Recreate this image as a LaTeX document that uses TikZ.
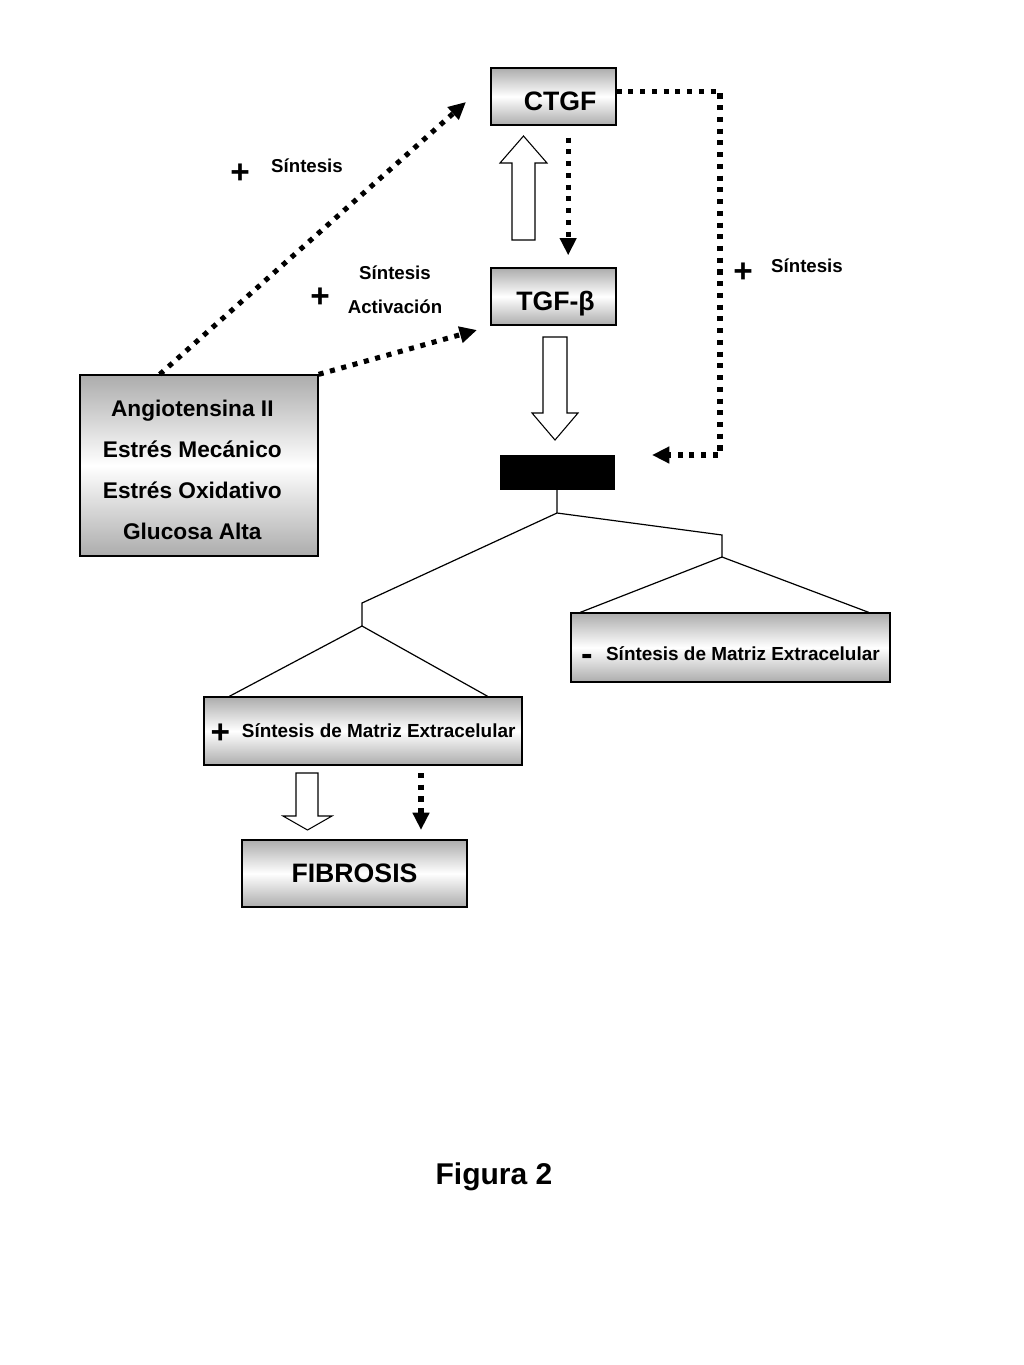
\documentclass[tikz,border=0pt]{standalone}
\usepackage{fontspec}
\setmainfont{Liberation Sans}
\usetikzlibrary{arrows.meta,calc}

\tikzset{
  box/.style={draw, line width=1pt, top color=gray!65, bottom color=gray!65, middle color=white,
    font=\bfseries, inner sep=0pt, align=center},
  dots/.style={line width=3.8pt, dash pattern=on 3.8pt off 5pt},
  tip/.style={-{Triangle[length=13pt,width=12pt]}},
  hollow/.style={draw, line width=0.8pt, fill=white},
  tree/.style={line width=0.9pt},
  lbl/.style={font=\bfseries\fontsize{14}{16}\selectfont},
  sign/.style={font=\bfseries\fontsize{25}{25}\selectfont},
}
% push text down inside its box by #1
\newcommand{\sink}[2]{\raisebox{0pt}[\dimexpr\height+#1*2\relax][\depth]{#2}}

\begin{document}
\begin{tikzpicture}[x=0.75pt,y=-0.75pt]
  \useasboundingbox (0,0) rectangle (1024,1365);

  % boxes
  \node[box, minimum width=93.75pt, minimum height=42.75pt, font=\bfseries\fontsize{20}{20}\selectfont] (ctgf) at (553.5,96.5) {\hspace{10pt}\sink{3.75pt}{CTGF}};
  \node[box, minimum width=93.75pt, minimum height=42.75pt, font=\bfseries\fontsize{20}{20}\selectfont] (tgf) at (553.5,296.5) {\hspace{3pt}\sink{5.25pt}{TGF-β}};
  \node[box, minimum width=178.5pt, minimum height=135.75pt, font=\bfseries\fontsize{17}{30.75}\selectfont] (angio) at (199,465.5)
    {\hspace{-10pt}\sink{3pt}{\begin{tabular}{c}Angiotensina II\\Estrés Mecánico\\Estrés Oxidativo\\Glucosa Alta\end{tabular}}};
  \node[draw, fill=black, minimum width=85.5pt, minimum height=25.5pt, inner sep=0pt] (black) at (557,472) {};
  \node[box, minimum width=239.25pt, minimum height=51.75pt, font=\bfseries\fontsize{14.2}{16}\selectfont] (menos) at (730.5,647.5)
    {\sink{6.5pt}{\raisebox{-3.5pt}{\fontsize{26}{16}\selectfont -}\hspace{6pt} Síntesis de Matriz Extracelular}};
  \node[box, minimum width=238.5pt, minimum height=51pt, font=\bfseries\fontsize{14.2}{16}\selectfont] (mas) at (363,731)
    {\sink{2.2pt}{\raisebox{-4.5pt}{\fontsize{25}{16}\selectfont +}\hspace{5pt} Síntesis de Matriz Extracelular}};
  \node[box, minimum width=168.75pt, minimum height=50.25pt, font=\bfseries\fontsize{20}{20}\selectfont] (fibrosis) at (354.5,873.5) {FIBROSIS};

  % labels
  \node[sign] (p1) at (240,174) {+};
  \node[lbl] (s1) at (307,166) {Síntesis};
  \node[sign] (p2) at (320,298) {+};
  \node[lbl, align=center, font=\bfseries\fontsize{14}{25.5}\selectfont] (s2) at (395,290) {Síntesis\\Activación};
  \node[sign] (p3) at (743,273) {+};
  \node[lbl] (s3) at (807,266) {Síntesis};

  % dotted connectors
  \coordinate (a1) at (466,102);
  \coordinate (a2) at (477,330);
  \coordinate (a3) at (652,455);
  \coordinate (f1) at (421,773);
  \draw[dots, tip] ($(angio.north west)!0.336!(angio.north east)$) -- (a1);
  \draw[dots, tip] (angio.north east) -- (a2);
  \draw[dots, tip] ([xshift=11pt,yshift=-9pt]ctgf.south) -- ([xshift=11pt,yshift=9pt]tgf.north);
  \draw[dots, tip] ([yshift=4pt]ctgf.east) -| (720,455) -- (a3);
  \draw[dots, tip] (f1) -- ([yshift=7pt]f1 |- fibrosis.north);

  % hollow arrows
  \draw[hollow] (512,240) -- (512,163) -- (500,163) -- (523.5,136) -- (547,163) -- (535,163) -- (535,240) -- cycle;
  \draw[hollow] (543,337) -- (543,413) -- (532,413) -- (555,440) -- (578,413) -- (567,413) -- (567,337) -- cycle;
  \draw[hollow] (296,773) -- (296,816) -- (283,816) -- (307.5,830) -- (332,816) -- (318,816) -- (318,773) -- cycle;

  % tree
  \coordinate (t0) at (557,513);
  \coordinate (tr) at (722,535);
  \coordinate (trb) at (722,557);
  \coordinate (tl) at (362,603);
  \coordinate (tlb) at (362,626);
  \draw[tree] (black.south) -- (t0) -- (tr) -- (trb);
  \draw[tree] (t0) -- (tl) -- (tlb);
  \draw[tree] ([xshift=7.5pt]menos.north west) -- (trb) -- ([xshift=-16.5pt]menos.north east);
  \draw[tree] ([xshift=19.5pt]mas.north west) -- (tlb) -- ([xshift=-26.25pt]mas.north east);

  \node[font=\bfseries\fontsize{22.5}{22}\selectfont] (fig) at (494,1177) {Figura 2};
\end{tikzpicture}
\end{document}
